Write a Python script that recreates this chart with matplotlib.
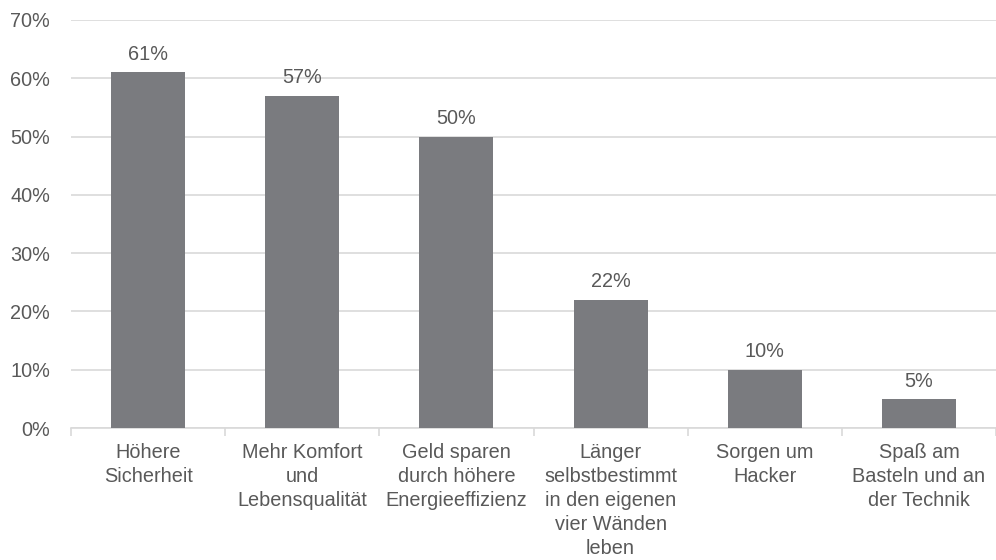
import matplotlib
matplotlib.use("Agg")
import matplotlib.pyplot as plt
import numpy as np

categories = ["Höhere\nSicherheit", "Mehr Komfort\nund\nLebensqualität",
              "Geld sparen\ndurch höhere\nEnergieeffizienz",
              "Länger\nselbstbestimmt\nin den eigenen\nvier Wänden\nleben",
              "Sorgen um\nHacker", "Spaß am\nBasteln und an\nder Technik"]
values = [61, 57, 50, 22, 10, 5]
yticks = [0, 10, 20, 30, 40, 50, 60, 70]

plt.rcParams['font.family'] = ['Liberation Sans', 'DejaVu Sans']
text_col = '#595959'
grid_col = '#D9D9D9'
bar_col = '#7A7B7F'
fs = 14.3

fig = plt.figure(figsize=(9.96, 5.6), dpi=100)
ax = fig.add_axes([0.0713, 0.2357, 0.9287, 0.7286])
x = np.arange(len(categories))
bars = ax.bar(x, values, width=0.48, color=bar_col, zorder=3)
for xi, v in zip(x, values):
    ax.annotate(f"{v}%", (xi, v), xytext=(0, 6), textcoords='offset points',
                ha='center', va='bottom', fontsize=fs, color=text_col)

ax.set_xlim(-0.5, len(categories) - 0.5)
ax.set_ylim(0, 70)
ax.set_yticks(yticks)
ax.set_yticklabels([f"{t}%" for t in yticks])
ax.yaxis.grid(True, color=grid_col, linewidth=1.2, zorder=0)
ax.set_xticks(x)
ax.set_xticklabels(categories, fontsize=fs, color=text_col, linespacing=1.33)
ax.set_xticks(np.arange(-0.5, len(categories)), minor=True)
ax.tick_params(axis='x', which='major', length=0, pad=11)
ax.tick_params(axis='x', which='minor', length=6, color=grid_col, width=1.2)
ax.tick_params(axis='y', length=0, pad=15, labelsize=fs, labelcolor=text_col)
for s in ['top', 'right', 'left']:
    ax.spines[s].set_visible(False)
ax.spines['bottom'].set_color(grid_col)
ax.spines['bottom'].set_linewidth(1.2)
fig.savefig("out.png", dpi=100)
